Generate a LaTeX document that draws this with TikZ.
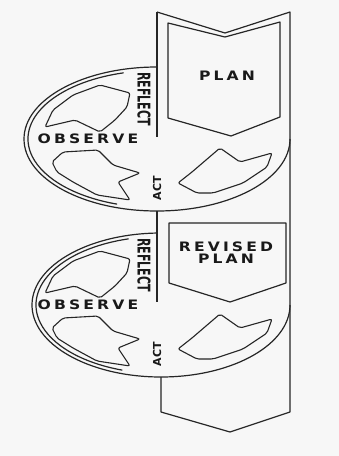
\documentclass[tikz,border=0pt]{standalone}
\usepackage{fontspec}
\newfontfamily\capfont[LetterSpace=20]{DejaVu Sans}
\newfontfamily\sidefont{DejaVu Sans}

\begin{document}
\begin{tikzpicture}[x=1pt, y=-1pt, line width=1.2pt, line join=round,
  every node/.style={text=black!90, inner sep=0pt},
  word/.style={font=\capfont\bfseries\fontsize{13}{12.5}\selectfont, xscale=1.2, align=center},
  sideword/.style={font=\sidefont\bfseries\fontsize{11}{11}\selectfont},
  turn/.style={draw=black!85, line width=1.1pt, rounded corners=2pt}]
\useasboundingbox[fill=black!3] (0,0) rectangle (339,456);

% the two loops
\coordinate (c1) at (157,139);
\coordinate (c2) at (161,305);
\draw[black!85] (c1) ++(270:133 and 72) arc[start angle=270, end angle=0, x radius=133, y radius=72];
\draw[black!85] (c1) ++(255:129 and 68.5) arc[start angle=255, end angle=108, x radius=129, y radius=68.5];
\draw[black!85] (c2) ++(268:129 and 72) arc[start angle=268, end angle=0, x radius=129, y radius=72];
\draw[black!85] (c2) ++(255:125 and 68.5) arc[start angle=255, end angle=108, x radius=125, y radius=68.5];

% the band and the plans
\draw[black!85] (157,12) -- (225,33) -- (290,12) -- (290,412) -- (230,432) -- (161,412) -- (161,377);
\draw[black!85] (157,12) -- (157,137);
\draw[black!85] (157,211) -- (157,302);
\draw[black!85] (168,23) -- (225,37) -- (280,22) -- (280,117) -- (231,136) -- (168,118) -- cycle;
\draw[black!85] (169,223) -- (286,223) -- (286,283) -- (230,302) -- (169,283) -- cycle;
\node[word] (plan) at (227,76) {PLAN};
\node[word] (revplan) at (226,252.5) {REVISED\\PLAN};

\foreach \dy/\i in {0/1,166/2}{
  \begin{scope}[shift={(0,\dy)}]
    \draw[turn] (45,127) -- (53,110) -- (73,95) -- (100,85) -- (130,93) -- (127,107)
      -- (115,120) -- (100,132) -- (75,120) -- cycle;
    \draw[turn] (52,162) -- (63,152) -- (98,150) -- (113,165) -- (140,173) -- (118,182)
      -- (130,200) -- (97,195) -- (73,182) -- (57,172) -- cycle;
    \draw[turn] (178,183) -- (192,172) -- (220,148) -- (240,162) -- (272,153) -- (267,167)
      -- (243,183) -- (213,193) -- (197,193) -- cycle;
    \node[word] (observe\i) at (88,139) {OBSERVE};
    \node[sideword, xscale=1.6, rotate=-90] (reflect\i) at (144,99) {REFLECT};
    \node[sideword, rotate=90] (act\i) at (157,188) {ACT};
  \end{scope}
}
\end{tikzpicture}
\end{document}
